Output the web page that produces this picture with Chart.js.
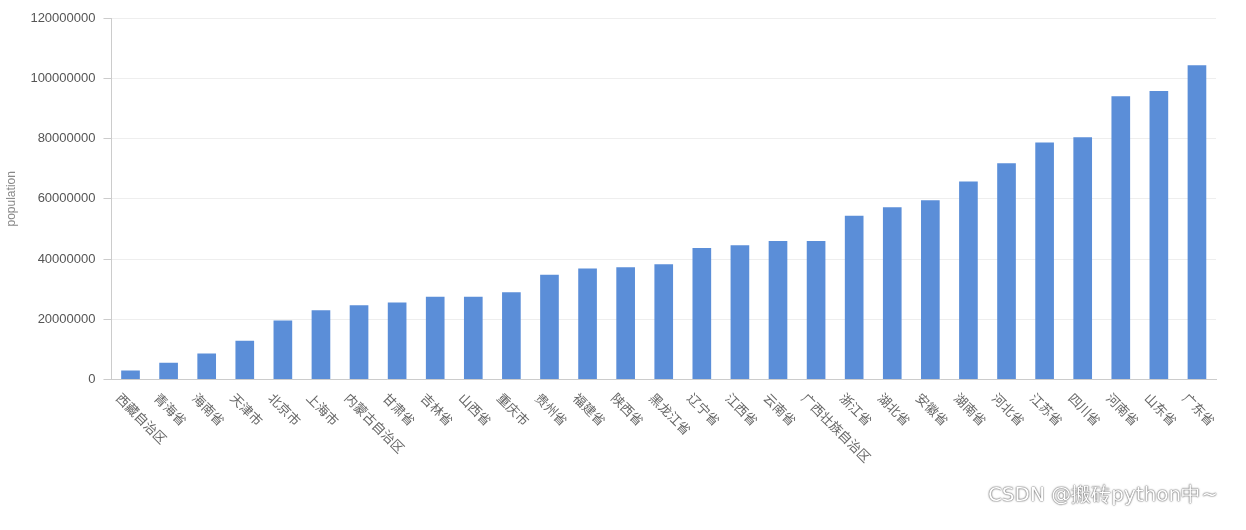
<!DOCTYPE html>
<html>
<head>
<meta charset="utf-8">
<script src="https://cdn.jsdelivr.net/npm/chart.js@4"></script>
<style>
  body { margin: 0; background: #fff; }
  #wrap { width: 1246px; height: 530px; position: relative; }
  #wm { position: absolute; right: 28px; bottom: 22px; font: 20px "DejaVu Sans", sans-serif; color: #fff;
        text-shadow: 0 0 2px #555, 0 0 1px #555; }
</style>
</head>
<body>
<div id="wrap">
  <canvas id="chart" width="1246" height="530"></canvas>
  <div id="wm">CSDN @搬砖python中~</div>
</div>
<script>
// provinces, sorted by population
const provinces = ['西藏自治区','青海省','海南省','天津市','北京市','上海市','内蒙古自治区','甘肃省','吉林省','山西省',
  '重庆市','贵州省','福建省','陕西省','黑龙江省','辽宁省','江西省','云南省','广西壮族自治区','浙江省',
  '湖北省','安徽省','湖南省','河北省','江苏省','四川省','河南省','山东省','广东省'];
const population = [3000000,5600000,8700000,12900000,19600000,23000000,24700000,25600000,27500000,27500000,
  29000000,34800000,36900000,37300000,38300000,43700000,44600000,46000000,46000000,54400000,
  57200000,59500000,65700000,71800000,78700000,80400000,94000000,95800000,104300000];
const yTicks = [0,20000000,40000000,60000000,80000000,100000000,120000000];

// labels slanted downward to the right, starting at the tick
const slantLabels = {
  id: 'slantLabels',
  afterDraw(chart) {
    const ctx = chart.ctx, x = chart.scales.x;
    ctx.save();
    ctx.font = '13px "Noto Sans CJK SC"';
    ctx.fillStyle = '#666';
    ctx.textAlign = 'left';
    ctx.textBaseline = 'middle';
    provinces.forEach((p, i) => {
      ctx.save();
      ctx.translate(x.getPixelForTick(i) - 12, x.top + 16);
      ctx.rotate(Math.PI / 4);
      ctx.fillText(p, 0, 0);
      ctx.restore();
    });
    ctx.restore();
  }
};

new Chart(document.getElementById('chart'), {
  type: 'bar',
  data: {
    labels: provinces,
    datasets: [{ data: population, backgroundColor: '#5b8ed8', barPercentage: 0.98, categoryPercentage: 0.5 }]
  },
  plugins: [slantLabels],
  options: {
    responsive: false,
    animation: false,
    layout: { padding: { left: 0, right: 30, top: 18, bottom: 122 } },
    plugins: { legend: { display: false }, tooltip: { enabled: false } },
    scales: {
      x: {
        grid: { display: false },
        border: { color: '#ccc' },
        ticks: { callback: () => '', maxRotation: 0 }
      },
      y: {
        min: 0, max: 120000000,
        afterBuildTicks: axis => { axis.ticks = yTicks.map(v => ({ value: v })); },
        grid: { color: '#eee', tickColor: '#ccc' },
        border: { color: '#ccc' },
        ticks: { color: '#555', font: { size: 13 }, padding: 8, callback: v => String(v) },
        title: { display: true, text: 'population', color: '#888', font: { size: 12 } }
      }
    }
  }
});
</script>
</body>
</html>
